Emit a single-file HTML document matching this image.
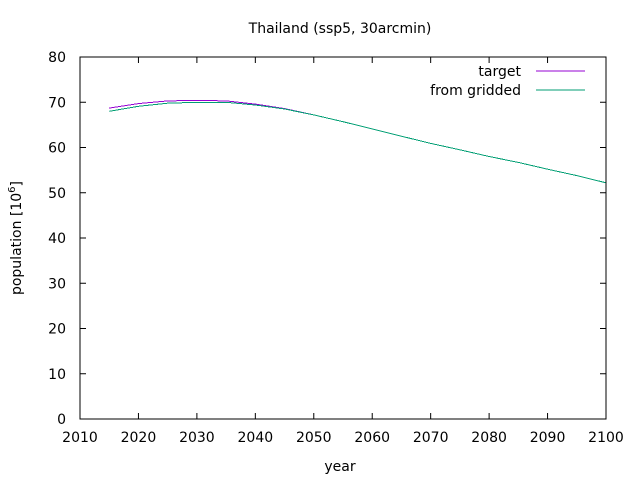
<!DOCTYPE html>
<html><head><meta charset="utf-8"><style>
body{margin:0;background:#fff;}
svg text{font-family:"DejaVu Sans","Liberation Sans",sans-serif;font-size:14px;fill:#000;}
</style></head><body>
<svg id="chart" width="640" height="480">
<rect width="640" height="480" fill="#fff"/>
<text x="340" y="33" text-anchor="middle">Thailand (ssp5, 30arcmin)</text>
<g id="axes"></g>
<g id="series"></g>
<rect x="80" y="57" width="526" height="362" fill="none" stroke="#000" stroke-width="1"/>
<text x="340" y="471" text-anchor="middle">year</text>
<text transform="translate(21,238) rotate(-90)" text-anchor="middle">population [10<tspan dy="-6" font-size="10">6</tspan><tspan dy="6">]</tspan></text>
<g>
<text x="521" y="76" text-anchor="end">target</text>
<line x1="536" y1="71" x2="585" y2="71" stroke="#9400d3"/>
<text x="521" y="95" text-anchor="end">from gridded</text>
<line x1="536" y1="90" x2="585" y2="90" stroke="#009e73"/>
</g>
</svg>
<script>
const years=[2015,2020,2025,2030,2035,2040,2045,2050,2055,2060,2065,2070,2075,2080,2085,2090,2095,2100];
const targetVals=[68.7,69.7,70.3,70.4,70.3,69.6,68.6,67.2,65.7,64.1,62.5,60.9,59.5,58.0,56.7,55.2,53.8,52.2];
const griddedVals=[68.0,69.1,69.8,70.0,70.0,69.4,68.5,67.2,65.7,64.1,62.5,60.9,59.5,58.0,56.7,55.2,53.8,52.2];
const xTicks=[2010,2020,2030,2040,2050,2060,2070,2080,2090,2100];
const yTicks=[0,10,20,30,40,50,60,70,80];
const NS="http://www.w3.org/2000/svg";
const X=v=>80+(v-2010)*(526/90);
const Y=v=>419-v*(362/80);
const axes=document.getElementById('axes');
function mk(tag,attrs,parent){const e=document.createElementNS(NS,tag);for(const k in attrs)e.setAttribute(k,attrs[k]);parent.appendChild(e);return e;}
xTicks.forEach(t=>{
  const x=X(t);
  const l=mk('line',{x1:x,x2:x,y1:419,y2:413,stroke:'#000'},axes);
  
  
  const l2=mk('line',{x1:x,x2:x,y1:57,y2:63,stroke:'#000'},axes);
  
  
  const tx=mk('text',{x:x,y:442,'text-anchor':'middle'},axes);
  tx.textContent=t;
  
  
});
yTicks.forEach(t=>{
  const y=Y(t);
  const l=mk('line',{x1:80,x2:86,y1:y,y2:y,stroke:'#000'},axes);
  
  
  const l2=mk('line',{x1:600,x2:606,y1:y,y2:y,stroke:'#000'},axes);
  
  
  const tx=mk('text',{x:66,y:y+5,'text-anchor':'end'},axes);
  tx.textContent=t;
  
  
});
const series=document.getElementById('series');
function line(vals,color,name){
  const d=vals.map((v,i)=>(i?'L':'M')+X(years[i]).toFixed(1)+','+Y(v).toFixed(1)).join('');
  const p=mk('path',{d:d,fill:'none',stroke:color,'stroke-width':1,'shape-rendering':'crispEdges'},series);
  
  
}
line(targetVals,'#9400d3','target-line');
line(griddedVals,'#009e73','gridded-line');
</script>
</body></html>
